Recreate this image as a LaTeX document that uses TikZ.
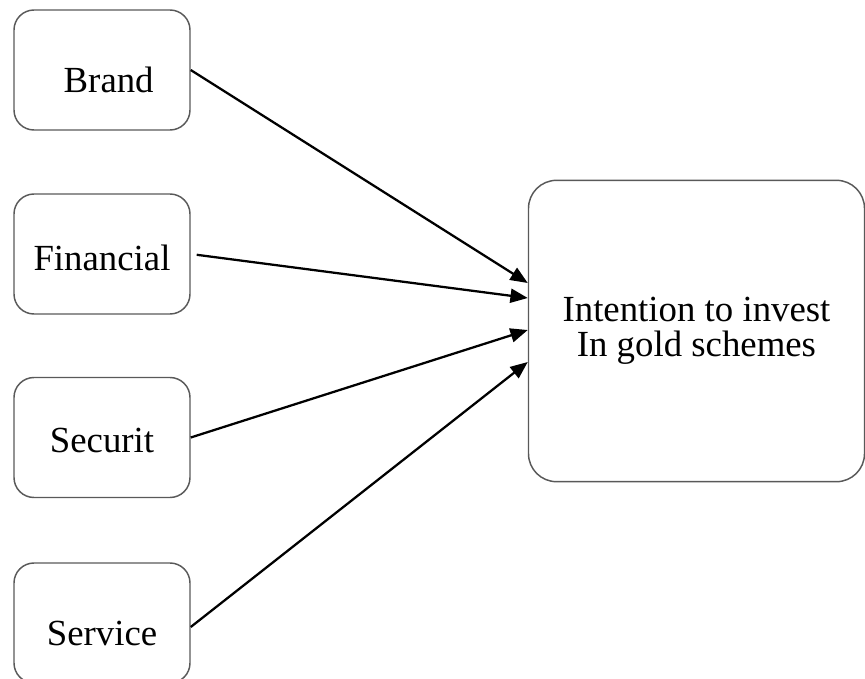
\documentclass[tikz,border=0pt]{standalone}
\usepackage{fontspec}
\setmainfont{Liberation Serif}
\usetikzlibrary{arrows.meta}
\tikzset{
  factor/.style = {draw=black!65, line width=1.1pt, rounded corners=15pt,
    minimum width=132pt, minimum height=90pt, inner sep=0pt,
    font=\fontsize{27.6}{33}\selectfont, text depth=0pt, text height=#1},
  goal/.style = {draw=black!65, line width=1.1pt, rounded corners=21pt,
    minimum width=252pt, minimum height=226pt, inner sep=0pt, align=center,
    font=\fontsize{27.6}{26.5}\selectfont},
  link/.style = {-{Triangle[length=13pt,width=10.5pt]}, line width=1.7pt, black},
}

\begin{document}
\begin{tikzpicture}[x=0.75pt, y=-0.75pt]
  \useasboundingbox (0,0) rectangle (865,679);
  \node [factor=33pt] (brand) at (102,70) {\hspace*{10pt}Brand};
  \node [factor=24pt] (fin) at (102,254) {Financial};
  \node [factor=23pt] (sec) at (102,437.5) {Securit};
  \node [factor=33pt] (serv) at (102,623) {Service};
  \node [goal] (intent) at (696.5,331) {Intention to invest\\In gold schemes};
  % arrow ends on the left side of the goal box
  \coordinate (inA) at ([yshift=36pt]intent.west);
  \coordinate (inB) at ([yshift=24.75pt]intent.west);
  \coordinate (inC) at ([yshift=0.75pt]intent.west);
  \coordinate (inD) at ([yshift=-23.25pt]intent.west);
  \draw [link] (brand.east) -- (inA);
  \draw [link, shorten <=4.5pt] (fin.east) -- (inB);
  \draw [link] (sec.east) -- (inC);
  \draw [link] ([yshift=-3pt]serv.east) -- (inD);
\end{tikzpicture}
\end{document}
